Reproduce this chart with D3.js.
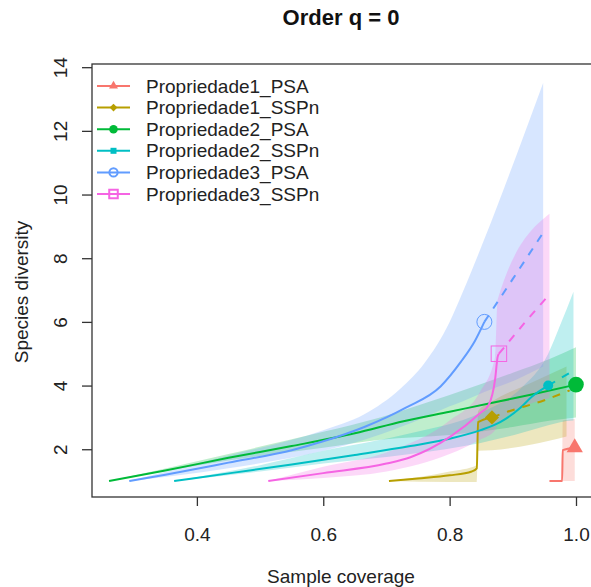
<!DOCTYPE html>
<html>
<head>
<meta charset="utf-8">
<script src="https://cdn.jsdelivr.net/npm/d3@7"></script>
<style>
  body { margin: 0; background: #fff; }
  svg { display: block; font-family: "Liberation Sans", Arial, sans-serif; }
</style>
</head>
<body>
<div id="chart"></div>
<script>
// series order as in the legend
const seriesNames  = ['Propriedade1_PSA', 'Propriedade1_SSPn', 'Propriedade2_PSA',
                      'Propriedade2_SSPn', 'Propriedade3_PSA', 'Propriedade3_SSPn']
const seriesColors = ['#F8766D', '#B79F00', '#00BA38', '#00BFC4', '#619CFF', '#F564E3']
const seriesShapes = ['triangle', 'diamond', 'circle', 'dot', 'opencircle', 'opensquare']

// [coverage, diversity] - rarefaction (solid) and extrapolation (dashed)
const p1psaRare  = [[0.958, 1.0], [0.978, 1.0], [0.979, 1.97], [0.998, 2.05]]
const p1psaExt   = []
const p1sspnRare = [[0.704, 1.0], [0.75, 1.08], [0.8, 1.18], [0.835, 1.3], [0.843, 1.4], [0.845, 2.85], [0.867, 3.0]]
const p1sspnExt  = [[0.867, 3.0], [0.889, 3.16], [0.95, 3.54], [0.99, 3.85]]
const p2psaRare  = [[0.261, 1.0], [0.35, 1.33], [0.45, 1.73], [0.55, 2.1], [0.65, 2.5], [0.727, 2.88],
                    [0.8, 3.18], [0.866, 3.45], [0.93, 3.72], [1.0, 4.03]]
const p2psaExt   = []
const p2sspnRare = [[0.364, 1.0], [0.453, 1.25], [0.55, 1.52], [0.65, 1.82], [0.738, 2.1], [0.8, 2.33],
                    [0.849, 2.6], [0.88, 2.85], [0.912, 3.3], [0.93, 3.65], [0.956, 4.0]]
const p2sspnExt  = [[0.956, 4.0], [0.99, 4.4]]
const p3psaRare  = [[0.293, 1.0], [0.35, 1.2], [0.45, 1.58], [0.55, 1.97], [0.6, 2.25], [0.665, 2.7],
                    [0.7, 3.0], [0.73, 3.3], [0.786, 3.98], [0.818, 4.75], [0.84, 5.4], [0.855, 6.0]]
const p3psaExt   = [[0.855, 6.0], [0.9, 7.35], [0.948, 8.8]]
const p3sspnRare = [[0.513, 1.0], [0.6, 1.25], [0.7, 1.55], [0.738, 1.75], [0.8, 2.38], [0.848, 3.13],
                    [0.862, 3.4], [0.872, 4.2], [0.876, 4.9], [0.878, 5.0]]
const p3sspnExt  = [[0.878, 5.0], [0.92, 6.0], [0.955, 6.8]]

// confidence bands [coverage, lower, upper]
const p1psaBand  = [[0.958, 1.0, 1.0], [0.978, 1.0, 1.05], [0.979, 1.0, 2.9], [0.998, 1.0, 2.95]]
const p1sspnBand = [[0.704, 1.0, 1.0], [0.8, 0.97, 1.3], [0.843, 0.97, 1.5], [0.845, 1.95, 3.2],
                    [0.867, 1.97, 3.5], [0.93, 2.15, 4.1], [0.985, 2.4, 4.6]]
const p2psaBand  = [[0.261, 1.0, 1.0], [0.45, 1.65, 1.85], [0.6, 2.05, 2.55], [0.69, 2.3, 3.0],
                    [0.8, 2.45, 3.7], [0.9, 2.7, 4.4], [0.96, 2.9, 4.85], [1.0, 3.0, 5.2]]
const p2sspnBand = [[0.364, 1.0, 1.0], [0.5, 1.3, 1.5], [0.6, 1.55, 1.95], [0.738, 1.85, 2.5],
                    [0.849, 2.2, 3.15], [0.912, 2.5, 3.9], [0.956, 2.75, 5.0], [0.975, 2.85, 5.9], [0.996, 2.9, 6.95]]
const p3psaBand  = [[0.293, 1.0, 1.0], [0.45, 1.4, 1.8], [0.6, 1.95, 2.6], [0.665, 2.3, 3.1], [0.722, 2.7, 3.9],
                    [0.76, 3.0, 4.7], [0.8, 3.35, 6.0], [0.82, 3.5, 6.9], [0.855, 3.8, 8.6], [0.907, 4.2, 11.3],
                    [0.948, 4.6, 13.5]]
const p3sspnBand = [[0.513, 1.0, 1.0], [0.6, 1.1, 1.45], [0.7, 1.3, 1.9], [0.8, 1.85, 2.9], [0.848, 2.3, 3.8],
                    [0.872, 2.6, 4.9], [0.876, 2.8, 6.7], [0.958, 3.6, 9.4]]

const rareData = [p1psaRare, p1sspnRare, p2psaRare, p2sspnRare, p3psaRare, p3sspnRare]
const extData  = [p1psaExt, p1sspnExt, p2psaExt, p2sspnExt, p3psaExt, p3sspnExt]
const bandData = [p1psaBand, p1sspnBand, p2psaBand, p2sspnBand, p3psaBand, p3sspnBand]

const xTicks = [0.4, 0.6, 0.8, 1.0]
const yTicks = [2, 4, 6, 8, 10, 12, 14]

const width = 591, height = 587
const plot = { left: 92, right: 594.7, top: 64, bottom: 497 }

const x = d3.scaleLinear().domain([0.234, 1.0296]).range([plot.left, plot.right])
const y = d3.scaleLinear().domain([0.5, 14.1]).range([plot.bottom, plot.top])

const svg = d3.select('#chart').append('svg')
  .attr('width', width).attr('height', height)

const clip = svg.append('defs').append('clipPath').attr('id', 'plot-clip')
clip.append('rect').attr('x', plot.left).attr('y', plot.top)
  .attr('width', plot.right - plot.left).attr('height', plot.bottom - plot.top)

const g = svg.append('g').attr('clip-path', 'url(#plot-clip)')

// bands
const area = d3.area().x(d => x(d[0])).y0(d => y(d[1])).y1(d => y(d[2]))
  .curve(d3.curveMonotoneX)
bandData.forEach((band, i) => {
  g.append('path').datum(band)
    .attr('d', area)
    .attr('fill', seriesColors[i])
    .attr('fill-opacity', 0.25)
    .attr('stroke', 'none')
})

// lines
const line = d3.line().x(d => x(d[0])).y(d => y(d[1])).curve(d3.curveMonotoneX)
rareData.forEach((pts, i) => {
  g.append('path').datum(pts)
    .attr('d', line)
    .attr('fill', 'none')
    .attr('stroke', seriesColors[i])
    .attr('stroke-width', 2)
})
extData.forEach((pts, i) => {
  if (!pts.length) return
  g.append('path').datum(pts)
    .attr('d', line)
    .attr('fill', 'none')
    .attr('stroke', seriesColors[i])
    .attr('stroke-width', 2)
    .attr('stroke-dasharray', '8,8')
})

function drawShape (sel, shape, color, big) {
  const k = big ? 1 : 0.55
  if (shape === 'triangle') {
    sel.append('path').attr('d', d3.symbol(d3.symbolTriangle, 115 * k * k)())
      .attr('fill', color)
  } else if (shape === 'diamond') {
    sel.append('path').attr('d', d3.symbol(d3.symbolSquare, 100 * k * k)())
      .attr('transform', 'rotate(45)').attr('fill', color)
  } else if (shape === 'circle') {
    sel.append('circle').attr('r', 7.8 * k).attr('fill', color)
  } else if (shape === 'dot') {
    if (big) sel.append('circle').attr('r', 5).attr('fill', color)
    else sel.append('rect').attr('x', -3).attr('y', -3).attr('width', 6).attr('height', 6).attr('fill', color)
  } else if (shape === 'opencircle') {
    sel.append('circle').attr('r', 7.5 * k).attr('fill', 'none')
      .attr('stroke', color).attr('stroke-width', big ? 1 : 2)
  } else if (shape === 'opensquare') {
    const s = 15.5 * k
    sel.append('rect').attr('x', -s / 2).attr('y', -s / 2).attr('width', s).attr('height', s)
      .attr('fill', 'none').attr('stroke', color).attr('stroke-width', big ? 1 : 2)
  }
}

// observed points = last point of each rarefaction curve
rareData.forEach((pts, i) => {
  const p = pts[pts.length - 1]
  const s = g.append('g').attr('transform', `translate(${x(p[0])},${y(p[1])})`)
  drawShape(s, seriesShapes[i], seriesColors[i], true)
})

// frame
svg.append('rect')
  .attr('x', plot.left).attr('y', plot.top)
  .attr('width', plot.right - plot.left).attr('height', plot.bottom - plot.top)
  .attr('fill', 'none').attr('stroke', '#333').attr('stroke-width', 1.3)

// axes
const xAxis = svg.append('g')
  .attr('transform', `translate(0,${plot.bottom})`)
  .call(d3.axisBottom(x).tickValues(xTicks).tickFormat(d3.format('.1f')).tickSize(9).tickPadding(22))
xAxis.select('.domain').remove()
xAxis.selectAll('line').attr('stroke', '#333').attr('stroke-width', 1.3)
xAxis.selectAll('text').attr('font-size', 19).attr('fill', '#222')
  .attr('font-family', '"Liberation Sans", Arial, sans-serif')

const yAxis = svg.append('g')
  .attr('transform', `translate(${plot.left},0)`)
  .call(d3.axisLeft(y).tickValues(yTicks).tickSize(10).tickPadding(0))
yAxis.select('.domain').remove()
yAxis.selectAll('line').attr('stroke', '#333').attr('stroke-width', 1.3)
yAxis.selectAll('text')
  .attr('font-size', 19).attr('fill', '#222')
  .attr('font-family', '"Liberation Sans", Arial, sans-serif')
  .attr('x', null).attr('dy', null)
  .attr('text-anchor', 'middle')
  .attr('transform', 'translate(-25,0) rotate(-90)')

// titles
svg.append('text')
  .attr('x', 341).attr('y', 25)
  .attr('text-anchor', 'middle')
  .attr('font-size', 22).attr('font-weight', 'bold').attr('fill', '#111')
  .text('Order q = 0')

svg.append('text')
  .attr('x', 341).attr('y', 583)
  .attr('text-anchor', 'middle')
  .attr('font-size', 19).attr('fill', '#222')
  .text('Sample coverage')

svg.append('text')
  .attr('transform', 'translate(28,292) rotate(-90)')
  .attr('text-anchor', 'middle')
  .attr('font-size', 19).attr('fill', '#222')
  .text('Species diversity')

// legend
const legend = svg.append('g')
seriesNames.forEach((name, i) => {
  const ly = 86 + i * 21.6
  legend.append('line')
    .attr('x1', 97).attr('x2', 130).attr('y1', ly).attr('y2', ly)
    .attr('stroke', seriesColors[i]).attr('stroke-width', 2)
  const s = legend.append('g').attr('transform', `translate(113.5,${ly})`)
  drawShape(s, seriesShapes[i], seriesColors[i], false)
  legend.append('text')
    .attr('x', 146).attr('y', ly + 6.5)
    .attr('font-size', 19).attr('fill', '#222')
    .text(name)
})
</script>
</body>
</html>
